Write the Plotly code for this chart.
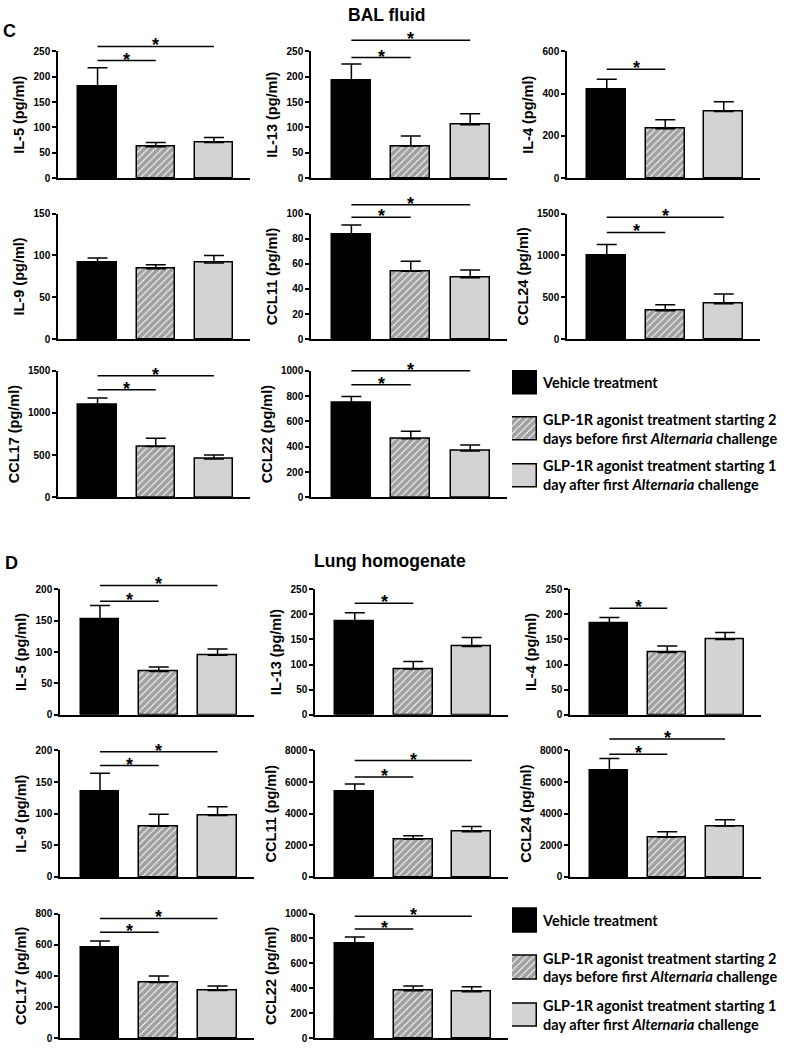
import plotly.graph_objects as go

W, H = 793, 1050
ARIAL = "Liberation Sans, Arial, sans-serif"
LEG_FONT = "Lato, Carlito, Calibri, sans-serif"

groups = [
    "Vehicle treatment",
    "GLP-1R agonist treatment starting 2 days before first Alternaria challenge",
    "GLP-1R agonist treatment starting 1 day after first Alternaria challenge",
]
legend_text = [
    "Vehicle treatment",
    "GLP-1R agonist treatment starting 2<br>days before first <i>Alternaria</i> challenge",
    "GLP-1R agonist treatment starting 1<br>day after first <i>Alternaria</i> challenge",
]

# ---- BAL fluid (panel C) ----
bal_analytes = ["IL-5", "IL-13", "IL-4", "IL-9", "CCL11", "CCL24", "CCL17", "CCL22"]
bal_means = [[181, 62, 70], [193, 63, 105], [421, 233, 315], [91, 84, 91],
             [83, 54, 49], [1001, 338, 424], [1099, 601, 455], [749, 463, 367]]
bal_sems = [[37, 8, 10], [32, 20, 22], [47, 43, 47], [6, 5, 9],
            [8, 8, 6], [130, 74, 114], [79, 98, 48], [47, 60, 47]]
bal_ymax = [250, 250, 600, 150, 100, 1500, 1500, 1000]
bal_dtick = [50, 50, 200, 50, 20, 500, 500, 200]
bal_sig_groups = [[1, 2], [1, 2], [1], [], [1, 2], [1, 2], [1, 2], [1, 2]]
bal_sig_y = [[232, 260], [238, 272], [516], [], [97, 107], [1275, 1455], [1275, 1440], [890, 1000]]

# ---- Lung homogenate (panel D) ----
lung_analytes = ["IL-5", "IL-13", "IL-4", "IL-9", "CCL11", "CCL24", "CCL17", "CCL22"]
lung_means = [[153, 69, 95], [186, 91, 136], [182, 124, 150], [135, 80, 97],
              [5410, 2380, 2860], [6750, 2530, 3220], [580, 357, 305], [762, 379, 371]]
lung_sems = [[21, 7, 10], [17, 15, 18], [12, 13, 14], [29, 19, 14],
             [460, 230, 334], [730, 334, 397], [44, 42, 29], [50, 39, 42]]
lung_ymax = [200, 250, 250, 200, 8000, 8000, 800, 1000]
lung_dtick = [50, 50, 50, 50, 2000, 2000, 200, 200]
lung_sig_groups = [[1, 2], [1], [1], [1, 2], [1, 2], [1, 2], [1, 2], [1, 2]]
lung_sig_y = [[181, 206], [222], [212], [176, 198], [6320, 7360], [7760, 8720], [680, 768], [875, 977]]

xpos = [0, 1, 2]
fills = ["black", "white", "#d3d3d3"]
patterns = ["", "/", ""]


def px_x(p):
    return p / W


def px_y(p):
    return 1 - p / H


sections = [
    dict(names=bal_analytes, means=bal_means, sems=bal_sems, ymax=bal_ymax, dtick=bal_dtick,
         sig=bal_sig_groups, sigy=bal_sig_y,
         rows=[(46, 174), (210, 337), (369, 497)],
         cols=[(58, 250), (311, 507), (567, 760)],
         leg=(357.5, 498.5)),
    dict(names=lung_analytes, means=lung_means, sems=lung_sems, ymax=lung_ymax, dtick=lung_dtick,
         sig=lung_sig_groups, sigy=lung_sig_y,
         rows=[(590, 717), (753, 881), (918, 1044)],
         cols=[(60, 254), (315, 508), (570, 761)],
         leg=(901, 1045)),
]

fig = go.Figure()
layout_axes = {}
shapes = []
annotations = []
n = 0


def ids(k):
    s = "" if k == 1 else str(k)
    return "x" + s, "y" + s, "xaxis" + s, "yaxis" + s


bar_marker = dict(
    color=fills,
    line=dict(color="black", width=1.5),
    pattern=dict(shape=patterns, fgcolor="black", bgcolor="white", size=5, solidity=0.8),
)

for sec in sections:
    for i, name in enumerate(sec["names"]):
        n += 1
        xa, ya, xk, yk = ids(n)
        r, c = divmod(i, 3)
        top, bot = sec["rows"][r]
        left, right = sec["cols"][c]
        d0, d1 = px_y(bot), px_y(top)
        ymax = sec["ymax"][i]
        fig.add_trace(go.Bar(
            x=xpos, y=sec["means"][i], width=0.66, marker=bar_marker,
            error_y=dict(type="data", symmetric=False, array=sec["sems"][i],
                         arrayminus=[0, 0, 0], color="black", thickness=1.5, width=10),
            xaxis=xa, yaxis=ya, showlegend=False, hoverinfo="skip",
        ))
        # significance brackets (value -> paper position through the axis domain,
        # so brackets above the axis top are not clipped)
        for g, h in zip(sec["sig"][i], sec["sigy"][i]):
            yp = d0 + (h / ymax) * (d1 - d0)
            shapes.append(dict(type="line", xref=xa, yref="paper",
                               x0=xpos[0], x1=xpos[g], y0=yp, y1=yp,
                               line=dict(color="black", width=1.5)))
            annotations.append(dict(text="*", xref=xa, yref="paper",
                                    x=(xpos[0] + xpos[g]) / 2, y=yp,
                                    xanchor="center", yanchor="middle", yshift=1,
                                    showarrow=False,
                                    font=dict(family=ARIAL, size=18, color="black", weight="bold")))
        layout_axes[xk] = dict(
            domain=[px_x(left), px_x(right)], anchor=ya, range=[-0.68, 2.62],
            showline=True, linecolor="black", linewidth=2, ticks="", showticklabels=False,
            showgrid=False, zeroline=False, fixedrange=True)
        layout_axes[yk] = dict(
            domain=[d0, d1], anchor=xa, range=[0, ymax],
            dtick=sec["dtick"][i], tick0=0,
            showline=True, linecolor="black", linewidth=1.5,
            ticks="outside", ticklen=4, tickwidth=1.5, tickcolor="black",
            tickfont=dict(family=ARIAL, size=10, color="black", weight="bold"),
            title=dict(text=name + " (pg/ml)", standoff=5,
                       font=dict(family=ARIAL, size=14.5, color="black", weight="bold")),
            showgrid=False, zeroline=False, fixedrange=True)

    # legend drawn as a small horizontal-bar key
    n += 1
    xa, ya, xk, yk = ids(n)
    ltop, lbot = sec["leg"]
    fig.add_trace(go.Bar(
        y=xpos, x=[1, 1, 1], orientation="h", width=0.5, marker=bar_marker,
        xaxis=xa, yaxis=ya, showlegend=False, hoverinfo="skip"))
    layout_axes[xk] = dict(domain=[px_x(512), px_x(537)], anchor=ya, range=[0, 1],
                           visible=False, fixedrange=True)
    layout_axes[yk] = dict(domain=[px_y(lbot), px_y(ltop)], anchor=xa, range=[2.5, -0.5],
                           side="right", tickvals=xpos, ticktext=legend_text, ticks="",
                           showline=False, showgrid=False, zeroline=False, ticklabelstandoff=5,
                           tickfont=dict(family=LEG_FONT, size=14.5, color="black", weight="bold"),
                           fixedrange=True)

titles = [
    dict(text="C", x=px_x(1), y=px_y(25), xanchor="left", yanchor="middle",
         font=dict(family=ARIAL, size=18, color="black", weight="bold")),
    dict(text="BAL fluid", x=px_x(386), y=px_y(9), xanchor="center", yanchor="middle",
         font=dict(family=ARIAL, size=17.5, color="black", weight="bold")),
    dict(text="D", x=px_x(3), y=px_y(563), xanchor="left", yanchor="middle",
         font=dict(family=ARIAL, size=18, color="black", weight="bold")),
    dict(text="Lung homogenate", x=px_x(390), y=px_y(561), xanchor="center", yanchor="middle",
         font=dict(family=ARIAL, size=17.5, color="black", weight="bold")),
]
for a in titles:
    a.update(xref="paper", yref="paper", showarrow=False)
annotations = titles + annotations

fig.update_layout(
    width=W, height=H, margin=dict(l=0, r=0, t=0, b=0),
    paper_bgcolor="white", plot_bgcolor="white",
    showlegend=False, annotations=annotations, shapes=shapes, bargap=0,
    **layout_axes,
)

fig.write_html("out.html", config={"displayModeBar": False},
               post_script="document.body.style.margin='0px';document.body.style.overflow='hidden';")
